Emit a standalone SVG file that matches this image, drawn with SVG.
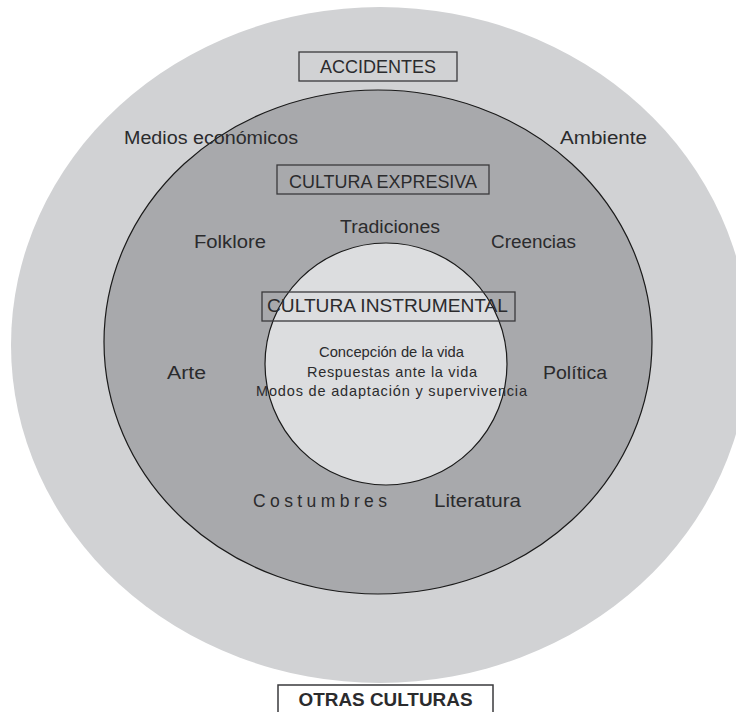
<svg xmlns="http://www.w3.org/2000/svg" width="736" height="712" viewBox="0 0 736 712">
<style>
text{font-family:"Liberation Sans",Arial,sans-serif;fill:#2b2b2d}
.lbl{font-size:17.5px}
.box{fill:none;stroke:#3a3a3c;stroke-width:1.3}
.ttl{font-size:18px;text-anchor:middle}
.ctr{font-size:14.5px;text-anchor:middle}
</style>
<rect width="736" height="712" fill="#ffffff"/>
<g id="otras-culturas-zone">
<ellipse cx="380" cy="345" rx="369" ry="338" fill="#d1d2d4"/>
</g>
<g id="cultura-expresiva-zone">
<ellipse cx="378" cy="342" rx="274" ry="252" fill="#a8a9ac" stroke="#1a1a1a" stroke-width="1.2"/>
</g>
<g id="cultura-instrumental-zone">
<circle cx="386" cy="364" r="121" fill="#dcdddf" stroke="#1a1a1a" stroke-width="1.2"/>
</g>
<g id="connectors"></g>
<g id="accidentes">
<rect class="box" x="299" y="52" width="158" height="29"/>
<text class="ttl" x="378" y="73">ACCIDENTES</text>
</g>
<g id="cultura-expresiva">
<rect class="box" x="277" y="165" width="212" height="29"/>
<text class="ttl" x="383" y="188" textLength="188" lengthAdjust="spacingAndGlyphs">CULTURA EXPRESIVA</text>
</g>
<g id="cultura-instrumental">
<rect class="box" x="262" y="292" width="253" height="29"/>
<text class="ttl" x="387.5" y="312" textLength="241" lengthAdjust="spacingAndGlyphs">CULTURA INSTRUMENTAL</text>
</g>
<g id="medios">
<text class="lbl" x="124" y="144" textLength="174" lengthAdjust="spacingAndGlyphs">Medios económicos</text>
</g>
<g id="ambiente">
<text class="lbl" x="560" y="144" textLength="87" lengthAdjust="spacingAndGlyphs">Ambiente</text>
</g>
<g id="tradiciones">
<text class="lbl" x="340" y="233" textLength="100" lengthAdjust="spacingAndGlyphs">Tradiciones</text>
</g>
<g id="folklore">
<text class="lbl" x="194" y="248" textLength="72" lengthAdjust="spacingAndGlyphs">Folklore</text>
</g>
<g id="creencias">
<text class="lbl" x="491" y="248" textLength="85" lengthAdjust="spacingAndGlyphs">Creencias</text>
</g>
<g id="arte">
<text class="lbl" x="167" y="379" textLength="39" lengthAdjust="spacingAndGlyphs">Arte</text>
</g>
<g id="politica">
<text class="lbl" x="543" y="379" textLength="64" lengthAdjust="spacingAndGlyphs">Política</text>
</g>
<g id="costumbres">
<text class="lbl" x="253" y="507" textLength="134" lengthAdjust="spacing">Costumbres</text>
</g>
<g id="literatura">
<text class="lbl" x="434" y="507" textLength="87" lengthAdjust="spacingAndGlyphs">Literatura</text>
</g>
<g id="centro">
<text class="ctr" x="391.5" y="357" textLength="145" lengthAdjust="spacingAndGlyphs">Concepción de la vida</text>
<text class="ctr" x="392" y="377" textLength="170" lengthAdjust="spacing">Respuestas ante la vida</text>
<text class="ctr" x="391.5" y="396" textLength="271" lengthAdjust="spacing">Modos de adaptación y supervivencia</text>
</g>
<g id="otras-culturas">
<rect x="278" y="685" width="215" height="40" fill="#ffffff" stroke="#3a3a3c" stroke-width="1.5"/>
<text x="385.5" y="706" text-anchor="middle" font-size="17.5" font-weight="bold" textLength="174" lengthAdjust="spacingAndGlyphs">OTRAS CULTURAS</text>
</g>
</svg>
